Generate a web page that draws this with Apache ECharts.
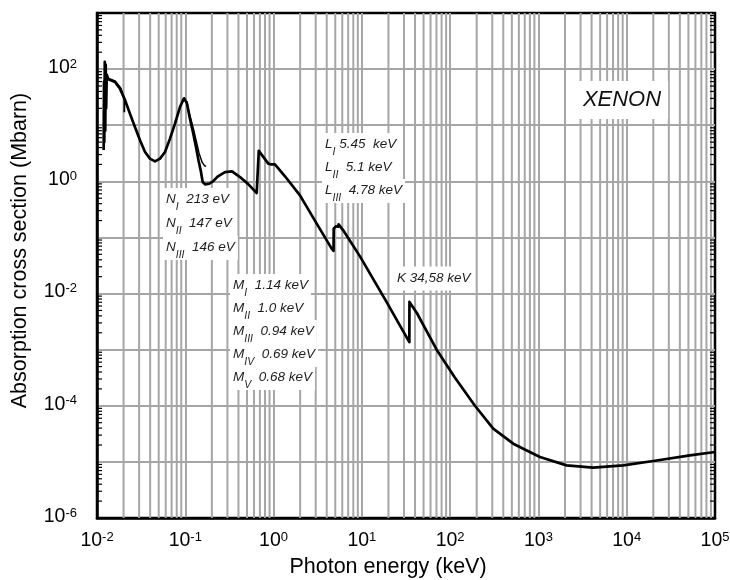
<!DOCTYPE html>
<html>
<head>
<meta charset="utf-8">
<script src="https://cdn.jsdelivr.net/npm/echarts@6/dist/echarts.min.js"></script>
<style>
  html, body { margin: 0; padding: 0; background: #fff; }
  #chart { width: 730px; height: 580px; }
</style>
</head>
<body>
<div id="chart"></div>
<script>
// Total photoabsorption cross section of xenon
// photon energy in keV, cross section in Mbarn
const energy = [
  0.0119, 0.0120, 0.0121, 0.01225, 0.0124, 0.01255, 0.0127, 0.0129,
  0.01343, 0.0160, 0.0182, 0.0208, 0.0236, 0.0269, 0.0307, 0.0350,
  0.0398, 0.0454, 0.0517, 0.0589, 0.0671, 0.0764, 0.0871, 0.0967,
  0.1045, 0.1130, 0.1222, 0.1322, 0.1411, 0.1494, 0.1574, 0.1672,
  0.1870, 0.2059, 0.2346, 0.2816, 0.3380, 0.4163, 0.5129, 0.6436,
  0.675, 0.680, 0.871, 0.940, 0.952, 1.037, 1.346, 1.991,
  3.021, 4.55, 4.78, 4.80, 5.05, 5.10, 5.40, 5.45,
  6.15, 9.52, 19.1, 34.5, 34.6, 42.0, 70.3, 113,
  190.9, 307.6, 518.3, 1040, 2085, 4175, 9120, 21800,
  51960, 100000
];
const crossSection = [
  3.6, 60, 5, 135, 8, 120, 20, 80,
  65.8, 58.9, 44.9, 27.8, 16.1, 9.29, 5.38, 3.33,
  2.54, 2.27, 2.54, 3.33, 5.77, 10.7, 21.1, 30.2,
  24.5, 13.1, 7.47, 4.08, 2.37, 1.57, 0.97, 0.885,
  0.91, 1.0, 1.23, 1.46, 1.51, 1.19, 0.90, 0.619,
  0.60, 3.5, 2.07, 2.0, 2.12, 2.01, 1.23, 0.563,
  0.186, 0.0631, 0.058, 0.145, 0.140, 0.158, 0.155, 0.171,
  0.134, 0.046, 0.00705, 0.00136, 0.0071, 0.0045, 0.001, 3.2e-4,
  1.0e-4, 3.91e-5, 2.11e-5, 1.22e-5, 8.67e-6, 7.89e-6, 8.67e-6, 1.06e-5,
  1.31e-5, 1.50e-5
];
// second, overlapping data set in the 4d / N-edge region
const energyAltLow = [0.0135, 0.0160, 0.0185, 0.0204, 0.0204];
const crossSectionAltLow = [68, 61, 46, 30, 17];
const energyAltN = [0.104, 0.110, 0.112, 0.117, 0.119, 0.125, 0.127, 0.134, 0.136, 0.143, 0.146, 0.155, 0.165, 0.172];
const crossSectionAltN = [27, 17, 17.5, 12, 12.5, 8, 8.3, 5, 5.2, 3.2, 3.3, 2.2, 1.9, 1.85];

// absorption edge annotations: [subshell, subscript, text]
const edgeN = [['N', 'I', '  213 eV'], ['N', 'II', '  147 eV'], ['N', 'III', '  146 eV']];
const edgeM = [['M', 'I', '  1.14 keV'], ['M', 'II', '  1.0 keV'], ['M', 'III', '  0.94 keV'], ['M', 'IV', '  0.69 keV'], ['M', 'V', '  0.68 keV']];
const edgeL = [['L', 'I', ' 5.45  keV'], ['L', 'II', '  5.1 keV'], ['L', 'III', '  4.78 keV']];
const edgeK = 'K 34,58 keV';
const elementName = 'XENON';

const X_MIN = 1e-2, X_MAX = 1e5;
const Y_MIN = 1e-6, Y_MAX = 1e3;

// minor log grid positions (2..9 per decade)
const minorX = [];
for (let k = -2; k < 5; k++) for (let m = 2; m <= 9; m++) minorX.push(+(m * Math.pow(10, k)).toPrecision(3));
const minorY = [];
for (let k = -6; k < 3; k++) for (let m = 2; m <= 9; m++) minorY.push(+(m * Math.pow(10, k)).toPrecision(3));

const FONT = '"Liberation Sans", Arial, Helvetica, sans-serif';
const GRID_COLOR = '#a6a6a6';
const GRID_WIDTH = 2;
const TEXT_COLOR = '#1e1e1e';

const pairs = (xs, ys) => xs.map((x, i) => [x, ys[i]]);

function powerLabel(value, everyOther) {
  const e = Math.round(Math.log10(value));
  if (everyOther && e % 2 !== 0) return '';
  return '{b|10}{p|' + e + '}';
}
const tickRich = {
  b: { fontSize: 19.5, lineHeight: 23, verticalAlign: 'top', color: '#000', fontFamily: FONT },
  p: { fontSize: 13, lineHeight: 13, verticalAlign: 'top', color: '#000', fontFamily: FONT }
};

const edgeRich = {
  m: { fontSize: 13.5, fontStyle: 'italic', fontFamily: FONT, lineHeight: 16, verticalAlign: 'top', fill: TEXT_COLOR },
  s: { fontSize: 10.5, fontStyle: 'italic', fontFamily: FONT, lineHeight: 10, padding: [10, 0, 0, 0], verticalAlign: 'top', fill: TEXT_COLOR }
};

function edgeRows(rows, x, yFirst, step) {
  return rows.map((r, i) => ({
    type: 'text', z: 10, silent: true,
    x: x, y: Math.round(yFirst + i * step - 12),
    style: {
      text: '{m|' + r[0] + '}{s|' + r[1] + '}{m|' + r[2] + '}',
      rich: edgeRich,
      backgroundColor: '#fff',
      padding: [4, 3, 4, 3],
      verticalAlign: 'top'
    }
  }));
}

const chart = echarts.init(document.getElementById('chart'), null, { renderer: 'canvas' });

chart.setOption({
  animation: false,
  backgroundColor: '#fff',
  grid: {
    left: 97, top: 13, right: 15, bottom: 62,
    show: true, borderColor: '#000', borderWidth: 2.5, backgroundColor: 'transparent',
    containLabel: false, outerBoundsMode: 'none'
  },
  xAxis: {
    type: 'log', logBase: 10, min: X_MIN, max: X_MAX,
    name: 'Photon energy (keV)', nameLocation: 'middle', nameGap: 37,
    nameTextStyle: { fontSize: 21.5, color: '#000', fontFamily: FONT, padding: [0, 36, 0, 0] },
    axisLine: { show: true, lineStyle: { color: '#000', width: 2.5 } },
    axisTick: { show: false },
    minorTick: { show: false },
    axisLabel: {
      margin: 13, fontSize: 19.5, formatter: v => powerLabel(v, false), rich: tickRich,
      showMinLabel: true, showMaxLabel: true, hideOverlap: false
    },
    splitLine: { show: true, showMinLine: false, showMaxLine: false, lineStyle: { color: GRID_COLOR, width: GRID_WIDTH } }
  },
  yAxis: {
    type: 'log', logBase: 10, min: Y_MIN, max: Y_MAX,
    name: 'Absorption cross section (Mbarn)', nameLocation: 'middle', nameGap: 66,
    nameTextStyle: { fontSize: 21.5, color: '#000', fontFamily: FONT, padding: [0, 0, 0, 30] },
    axisLine: { show: true, lineStyle: { color: '#000', width: 2.5 } },
    axisTick: { show: false },
    minorTick: { show: false },
    axisLabel: {
      margin: 20, fontSize: 19.5, formatter: v => powerLabel(v, true), rich: tickRich,
      showMinLabel: true, showMaxLabel: true, hideOverlap: false
    },
    splitLine: { show: true, showMinLine: false, showMaxLine: false, lineStyle: { color: GRID_COLOR, width: GRID_WIDTH } }
  },
  series: [
    {
      // minor vertical grid lines
      type: 'custom', z: 1, silent: true, clip: true,
      data: minorX.map(v => [v, 1]),
      renderItem(params, api) {
        const v = api.value(0);
        const a = api.coord([v, Y_MAX]);
        const b = api.coord([v, Y_MIN]);
        return { type: 'line', shape: { x1: a[0], y1: a[1], x2: b[0], y2: b[1] },
                 style: { stroke: GRID_COLOR, lineWidth: GRID_WIDTH } };
      }
    },
    {
      // minor ticks, inside, on left and right frame
      type: 'custom', z: 3, silent: true, clip: false,
      data: minorY.map(v => [1, v]),
      renderItem(params, api) {
        const v = api.value(1);
        const l = api.coord([X_MIN, v]);
        const r = api.coord([X_MAX, v]);
        return { type: 'group', children: [
          { type: 'line', shape: { x1: l[0], y1: l[1], x2: l[0] + 5, y2: l[1] }, style: { stroke: '#000', lineWidth: 1.2 } },
          { type: 'line', shape: { x1: r[0] - 5, y1: r[1], x2: r[0], y2: r[1] }, style: { stroke: '#000', lineWidth: 1.2 } }
        ] };
      }
    },
    {
      name: 'Xe', type: 'line', z: 20, data: pairs(energy, crossSection),
      showSymbol: false, symbol: 'none', smooth: false,
      lineStyle: { color: '#000', width: 2.7, join: 'round' }
    },
    {
      name: 'Xe (4d)', type: 'line', z: 20, data: pairs(energyAltLow, crossSectionAltLow),
      showSymbol: false, symbol: 'none', lineStyle: { color: '#000', width: 1.8 }
    },
    {
      name: 'Xe (N)', type: 'line', z: 20, data: pairs(energyAltN, crossSectionAltN),
      showSymbol: false, symbol: 'none', lineStyle: { color: '#000', width: 1.5 }
    }
  ],
  graphic: [
    ...edgeRows(edgeN, 163, 200, 23.8),
    ...edgeRows(edgeM, 230, 285.7, 23.1),
    ...edgeRows(edgeL, 322, 145, 23),
    {
      type: 'text', z: 10, silent: true, x: 394, y: 278.5,
      style: { text: edgeK, font: 'italic 13.5px ' + FONT, fill: TEXT_COLOR,
               backgroundColor: '#fff', padding: [5, 3, 5, 3], verticalAlign: 'middle' }
    },
    {
      type: 'text', z: 10, silent: true, x: 622, y: 100,
      style: { text: elementName, font: 'italic 22px ' + FONT, fill: '#111',
               backgroundColor: '#fff', padding: [8, 7, 8, 7], align: 'center', verticalAlign: 'middle' }
    }
  ]
});
</script>
</body>
</html>
